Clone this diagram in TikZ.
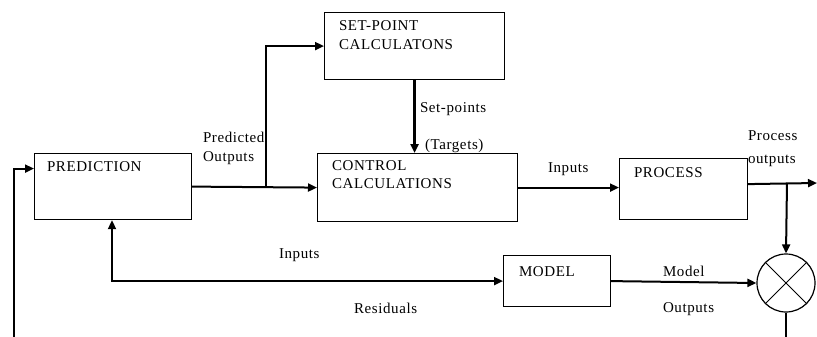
\documentclass[tikz,border=0pt]{standalone}
\usepackage{fontspec}
\setmainfont{Liberation Serif}[LetterSpace=4]
\usetikzlibrary{arrows.meta,positioning,calc}

\begin{document}
\begin{tikzpicture}[x=1pt,y=-1pt,line width=2pt,
        block/.style={draw,rectangle,line width=1.2pt,anchor=north west,inner sep=0pt},
        txt/.style={anchor=base west,inner sep=0pt,font=\fontsize{15}{17}\selectfont},
        arr/.style={-{Triangle[length=9pt,width=8pt]}}]

        \useasboundingbox (0,0) rectangle (817,337);

        % --- Blocks ---
        \node[block,minimum width=180pt,minimum height=67pt] (setpt) at (324,12) {};
        \node[block,minimum width=157pt,minimum height=66pt] (pred) at (34,153) {};
        \node[block,minimum width=200pt,minimum height=68pt] (ctrl) at (317,153) {};
        \node[block,minimum width=128pt,minimum height=61pt] (proc) at (619,158) {};
        \node[block,minimum width=107pt,minimum height=51pt] (model) at (503,255) {};
        \node[draw,circle,line width=1.2pt,minimum size=58pt,inner sep=0pt] (sum) at (786,283) {};
        \draw[line width=1pt] (sum.north west) -- (sum.south east)
            (sum.north east) -- (sum.south west);

        % --- Block texts ---
        \node[txt] (setptA) at (338,31) {SET-POINT};
        \node[txt] (setptB) at (338,50) {CALCULATONS};
        \node[txt] (predA) at (46,171) {PREDICTION};
        \node[txt] (ctrlA) at (331,170) {CONTROL};
        \node[txt] (ctrlB) at (331,188) {CALCULATIONS};
        \node[txt] (procA) at (633,177) {PROCESS};
        \node[txt] (modelA) at (518,276) {MODEL};

        % --- Connector labels ---
        \node[txt] (lpredA) at (202,142) {Predicted};
        \node[txt] (lpredB) at (202,161) {Outputs};
        \node[txt] (lspA) at (419,113) {Set-points};
        \node[txt] (lspB) at (424,149) {(Targets)};
        \node[txt] (linA) at (547,172) {Inputs};
        \node[txt] (lprocA) at (747,140) {Process};
        \node[txt] (lprocB) at (747,163) {outputs};
        \node[txt] (linB) at (278,258) {Inputs};
        \node[txt] (lres) at (353,313) {Residuals};
        \node[txt] (lmodA) at (662,276) {Model};
        \node[txt] (lmodB) at (662,312) {Outputs};

        % --- Free ends and junctions ---
        \coordinate (fbin) at (14,337);
        \coordinate (split) at ([xshift=74pt]pred.east);
        \coordinate (tap) at (787,183);
        \coordinate (outend) at (817,183);
        \coordinate (sumout) at (sum.south |- fbin);

        % --- Connectors ---
        \draw[arr] (fbin) |- ([yshift=18pt]pred.west);
        \draw[arr] (pred.east) -- (ctrl.west);
        \draw[arr] (split) |- (setpt.west);
        \draw[arr,line width=3pt] (setpt.south) -- (setpt.south |- ctrl.north);
        \draw[arr] (ctrl.east) -- (ctrl.east -| proc.west);
        \draw[arr] ([yshift=5pt]proc.east) -- (outend);
        \draw[arr] (tap) -- (sum.north);
        \draw[arr] (model.east) -- (sum.west);
        \draw[{Triangle[length=9pt,width=8pt]}-{Triangle[length=9pt,width=8pt]}]
            ([xshift=78pt]pred.south west) |- (model.west);
        \draw (sum.south) -- (sumout);

\end{tikzpicture}
\end{document}
